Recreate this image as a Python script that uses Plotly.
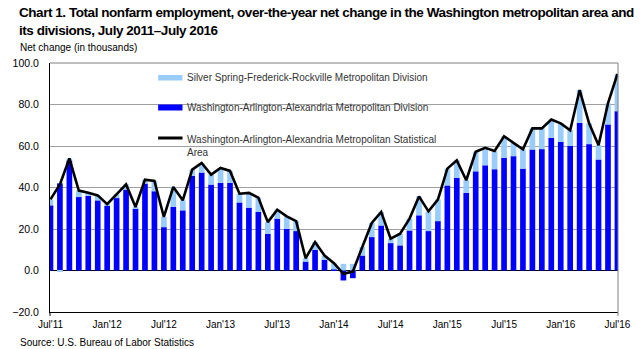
import plotly.graph_objects as go

# Months Jul 2011 .. Jul 2016 (61 observations), indexed 0..60
months = list(range(61))

# Over-the-year net change, thousands
msa_total = [34.3, 41.5, 54.0, 38.5, 37.5, 36.2, 32.0, 36.7, 41.5, 30.6,
             43.8, 43.2, 25.8, 40.3, 33.8, 48.6, 51.8, 46.2, 49.4, 48.0,
             37.0, 37.4, 35.1, 23.3, 29.3, 26.1, 23.8, 5.9, 13.7, 7.2,
             3.5, -1.6, -0.5, 11.3, 22.9, 28.2, 15.3, 17.7, 25.0, 35.7,
             28.5, 34.2, 49.1, 53.1, 43.5, 57.2, 59.1, 57.6, 64.7, 61.5,
             58.4, 68.5, 68.5, 72.8, 70.9, 67.6, 87.0, 70.9, 60.4, 80.5,
             94.7]

wash_division = [31.4, 42.0, 53.0, 35.4, 35.9, 33.8, 31.1, 34.9, 39.0, 29.8,
                 41.9, 38.2, 20.9, 30.6, 29.0, 45.6, 47.2, 41.4, 42.2, 42.2,
                 32.8, 30.3, 28.2, 17.7, 25.0, 20.1, 19.0, 4.3, 10.0, 5.2,
                 0.5, -4.8, -3.7, 7.2, 16.1, 21.7, 13.2, 12.1, 19.3, 26.6,
                 19.0, 23.8, 41.0, 44.6, 37.4, 47.8, 50.7, 48.8, 54.3, 55.1,
                 49.1, 58.3, 58.5, 63.9, 62.0, 60.0, 71.2, 60.9, 53.5, 70.4,
                 76.8]

silver_spring = [2.9, -0.5, 1.0, 3.1, 1.6, 2.4, 0.9, 1.8, 2.5, 0.8,
                 1.9, 5.0, 4.9, 9.7, 4.8, 3.0, 4.6, 4.8, 7.2, 5.8,
                 4.2, 7.1, 6.9, 5.6, 4.3, 6.0, 4.8, 1.6, 3.7, 2.0,
                 3.0, 3.2, 3.2, 4.1, 6.8, 6.5, 2.1, 5.6, 5.7, 9.1,
                 9.5, 10.4, 8.1, 8.5, 6.1, 9.4, 8.4, 8.8, 10.4, 6.4,
                 9.3, 10.2, 10.0, 8.9, 8.9, 7.6, 15.8, 10.0, 6.9, 10.1,
                 17.9]

tick_positions = [0, 6, 12, 18, 24, 30, 36, 42, 48, 54, 60]
tick_labels = ["Jul'11", "Jan'12", "Jul'12", "Jan'13", "Jul'13", "Jan'14",
               "Jul'14", "Jan'15", "Jul'15", "Jan'16", "Jul'16"]

legend_labels = [
    "Silver Spring-Frederick-Rockville Metropolitan Division",
    "Washington-Arlington-Alexandria Metropolitan Division",
    "Washington-Arlington-Alexandria Metropolitan Statistical<br>Area",
]

title_lines = [
    "Chart 1. Total nonfarm employment, over-the-year net change in the Washington metropolitan area and",
    "its divisions, July 2011\u2013July 2016",
]

DARK = "#0000FF"
LIGHT = "#99CCFF"
FONT = "Liberation Sans, Arial, sans-serif"

W, H = 643, 349
L, R, T, B = 38, 621, 63, 312


def px(x):
    return (x - L) / (R - L)


def py(y):
    return (B - y) / (B - T)


fig = go.Figure()
fig.add_trace(go.Bar(x=months, y=wash_division, marker_color=DARK,
                     marker_line_width=0, name=legend_labels[1]))
fig.add_trace(go.Bar(x=months, y=silver_spring, marker_color=LIGHT,
                     marker_line_width=0, name=legend_labels[0]))
fig.add_trace(go.Scatter(x=months, y=msa_total, mode="lines",
                         line=dict(color="black", width=2.6),
                         name=legend_labels[2]))

shapes = [
    # frame: top and right edges, end ticks
    dict(type="line", xref="paper", yref="paper", x0=0, x1=1, y0=1, y1=1,
         line=dict(color="#808080", width=1)),
    dict(type="line", xref="paper", yref="paper", x0=1, x1=1, y0=py(316), y1=1,
         line=dict(color="#808080", width=1)),
    dict(type="line", xref="paper", yref="paper", x0=0, x1=0, y0=py(316), y1=0,
         line=dict(color="black", width=1)),
    # key swatches
    dict(type="rect", xref="paper", yref="paper", x0=px(149), x1=px(174),
         y0=py(80.5), y1=py(75), fillcolor=LIGHT, line_width=0),
    dict(type="rect", xref="paper", yref="paper", x0=px(149), x1=px(174),
         y0=py(110.5), y1=py(104.5), fillcolor=DARK, line_width=0),
    dict(type="line", xref="paper", yref="paper", x0=px(149), x1=px(174),
         y0=py(138), y1=py(138), line=dict(color="black", width=3)),
]

# condensed bold heading
title_text = "<br>".join(
    f'<span style="letter-spacing:-0.45px">{ln}</span>' for ln in title_lines)

annotations = [
    dict(text=title_text, xref="paper", yref="paper", x=px(4), y=py(3),
         xanchor="left", yanchor="top", align="left", showarrow=False,
         font=dict(family=FONT, size=13.5, color="black", weight="bold")),
    dict(text="Net change (in thousands)", xref="paper", yref="paper",
         x=px(5), y=py(47), xanchor="left", yanchor="middle", showarrow=False,
         font=dict(family=FONT, size=10, color="black")),
    dict(text="Source: U.S. Bureau of Labor Statistics", xref="paper", yref="paper",
         x=px(5), y=py(342), xanchor="left", yanchor="middle", showarrow=False,
         font=dict(family=FONT, size=10, color="black")),
    dict(text=legend_labels[0], xref="paper", yref="paper", x=px(177), y=py(77.5),
         xanchor="left", yanchor="middle", showarrow=False,
         font=dict(family=FONT, size=10, color="#333333")),
    dict(text=legend_labels[1], xref="paper", yref="paper", x=px(177), y=py(107.5),
         xanchor="left", yanchor="middle", showarrow=False,
         font=dict(family=FONT, size=10, color="#333333")),
    dict(text=legend_labels[2], xref="paper", yref="paper", x=px(177), y=py(131.5),
         xanchor="left", yanchor="top", align="left", showarrow=False,
         font=dict(family=FONT, size=10, color="#333333")),
]

fig.update_layout(
    width=W, height=H,
    margin=dict(l=L, r=W - R, t=T, b=H - B, pad=0),
    paper_bgcolor="white", plot_bgcolor="white",
    barmode="relative", bargap=0.4,
    showlegend=False,
    shapes=shapes, annotations=annotations,
    font=dict(family=FONT, size=10, color="black"),
)
fig.update_xaxes(
    range=[-0.05, 60.06], tickvals=tick_positions, ticktext=tick_labels,
    showgrid=False, zeroline=False, showline=True, linecolor="black", linewidth=1,
    ticks="", ticklabelstandoff=3, tickfont=dict(family=FONT, size=10),
)
fig.update_yaxes(
    range=[-20, 100], dtick=20, tick0=0, tickformat=".1f",
    showgrid=True, gridcolor="#A0A0A0", gridwidth=1,
    zeroline=True, zerolinecolor="black", zerolinewidth=1,
    showline=True, linecolor="black", linewidth=1,
    ticks="", ticklabelstandoff=8, tickfont=dict(family=FONT, size=10.5),
)

fig.write_html("out.html")
